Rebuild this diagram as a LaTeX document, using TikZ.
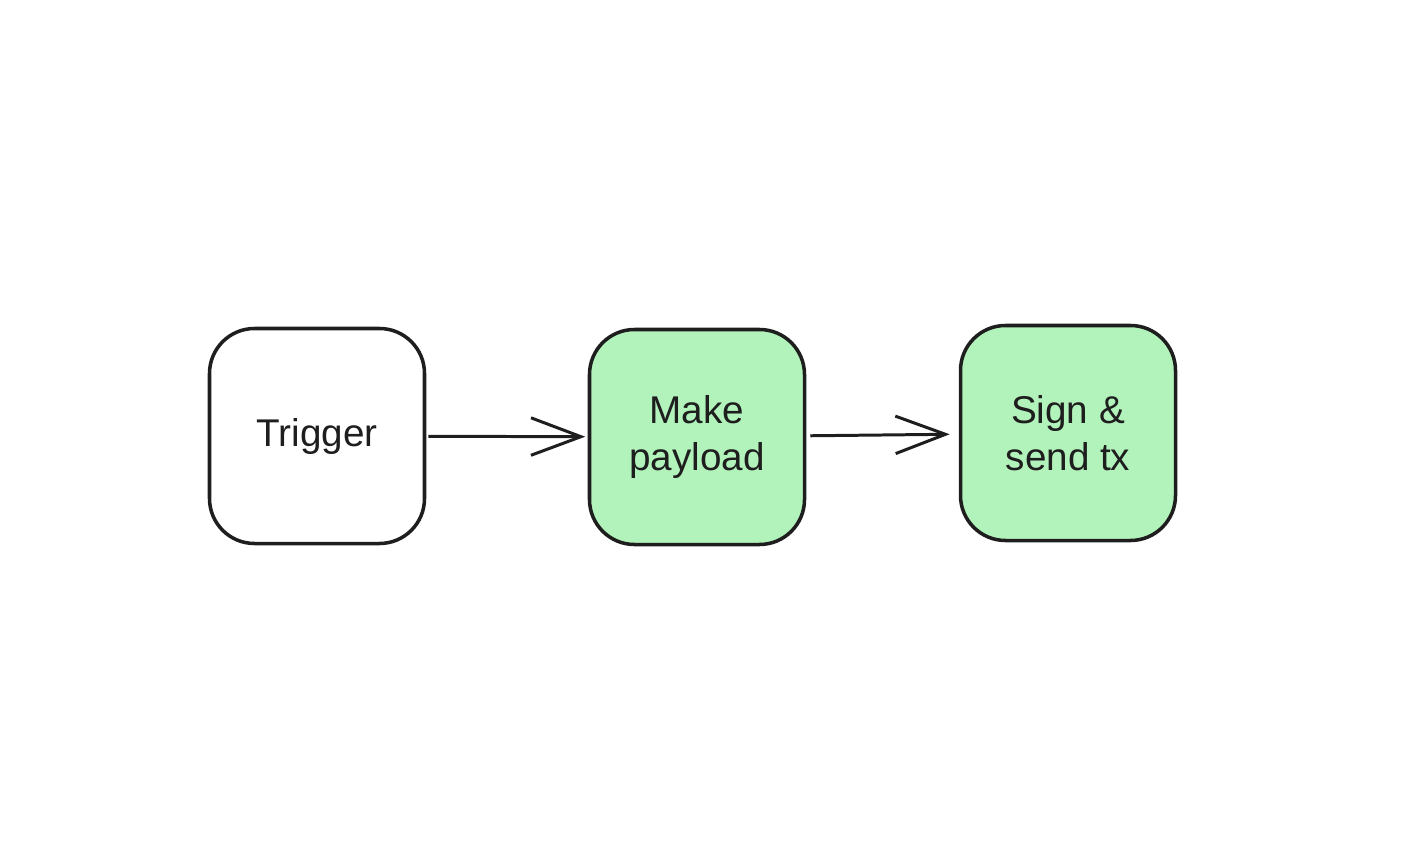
\documentclass[tikz,border=0pt]{standalone}
\usepackage{fontspec}
\setmainfont{Liberation Sans}
\usetikzlibrary{arrows.meta}
\definecolor{ink}{HTML}{1E1E1E}
\definecolor{mint}{HTML}{B2F2BB}
\tikzset{
  stage/.style={draw=ink, line width=2pt, rounded corners=0.9cm,
    minimum width=4.3cm, minimum height=4.3cm, align=center,
    text=ink, font=\fontsize{22}{27}\selectfont},
  flow/.style={draw=ink, line width=1.7pt,
    -{Straight Barb[length=1cm,width=0.75cm,line width=1.7pt]}}
}
\begin{document}
\begin{tikzpicture}[scale=0.2]
\useasboundingbox (0,0) rectangle (141.6,-86.7);
\node [stage] (trig) at (31.7,-43.6) {Trigger};
\node [stage, fill=mint] (pay) at (69.7,-43.7) {Make\\payload};
\node [stage, fill=mint] (sign) at (106.8,-43.3) {Sign \&\\send tx};
\draw [flow, shorten <=0.04cm, shorten >=0.05cm] (trig) -- (pay);
\draw [flow, shorten <=0.08cm, shorten >=0.18cm] (pay) -- (sign);
\end{tikzpicture}
\end{document}
